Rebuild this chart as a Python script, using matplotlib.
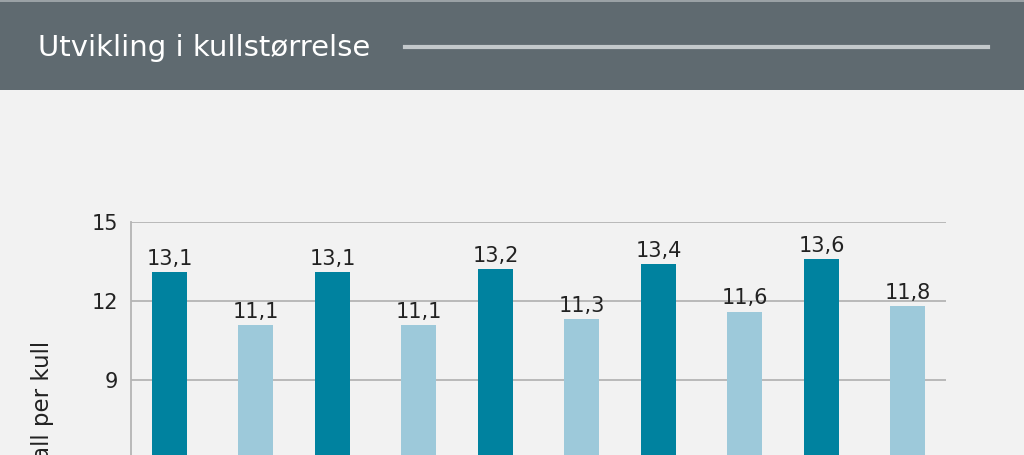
import matplotlib
matplotlib.use("Agg")
import matplotlib.pyplot as plt
import numpy as np
from matplotlib.patches import Rectangle
from matplotlib.lines import Line2D

# Data (the category axis is cut off in the reference)
groups = 5
levende = [13.1, 13.1, 13.2, 13.4, 13.6]
avvente = [11.1, 11.1, 11.3, 11.6, 11.8]
yticks = [9, 12, 15]
title = "Utvikling i kullstørrelse"
ylabel = "Antall per kull"

bg = "#f2f2f2"
dark = "#00829f"
light = "#9dc9da"
grid = "#b4b4b4"

fig = plt.figure(figsize=(10.24, 4.55), dpi=100, facecolor=bg)

# title banner
fig.patches.append(Rectangle((0, 0.802), 1, 0.194, transform=fig.transFigure,
                             facecolor="#5f6a70", edgecolor="none", zorder=0))
fig.patches.append(Rectangle((0, 0.996), 1, 0.004, transform=fig.transFigure,
                             facecolor="#9aa1a5", edgecolor="none", zorder=0))
fig.text(38 / 1024, 1 - 48 / 455, title, color="white", fontsize=21,
         ha="left", va="center")
fig.lines.append(Line2D([405 / 1024, 988 / 1024], [1 - 47 / 455, 1 - 47 / 455],
                        transform=fig.transFigure, color="#c3c8cb", linewidth=3))

# axes extends below the visible canvas, like the reference crop
ax = fig.add_axes([131 / 1024, -0.356, 815 / 1024, 0.868])
ax.set_facecolor(bg)

x = np.arange(groups)
off = 0.264
w = 0.22
b1 = ax.bar(x - off, levende, width=w, color=dark, zorder=3)
b2 = ax.bar(x + off, avvente, width=w, color=light, zorder=3)

for bars, vals in ((b1, levende), (b2, avvente)):
    for rect, v in zip(bars, vals):
        ax.text(rect.get_x() + rect.get_width() / 2, v + 0.27,
                f"{v:.1f}".replace(".", ","), ha="center", va="baseline",
                fontsize=15, color="#222222")

ax.set_xlim(-0.5, groups - 0.5)
ax.set_ylim(0, 15)
ax.set_yticks(yticks)
ax.set_xticks([])
ax.tick_params(axis="y", length=0, labelsize=15, pad=9, colors="#222222")
ax.yaxis.grid(True, color=grid, linewidth=1.3, zorder=0)
for s in ("top", "right", "bottom"):
    ax.spines[s].set_visible(False)
ax.spines["left"].set_color(grid)
ax.spines["left"].set_linewidth(1.3)

ax.set_ylabel(ylabel, fontsize=16.5, color="#222222")
ax.yaxis.set_label_coords(-0.095, 0.5)

fig.savefig("out.png", dpi=100, facecolor=bg)
